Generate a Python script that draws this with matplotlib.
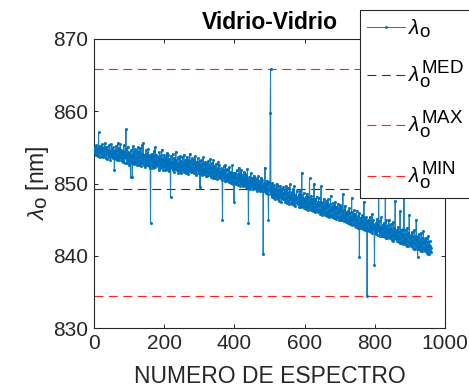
import numpy as np
import matplotlib
matplotlib.use("Agg")
import matplotlib.pyplot as plt
import matplotlib._mathtext as _mt

# MATLAB-like TeX: sub/superscripts nearly full size
_mt.SHRINK_FACTOR = 0.9

plt.rcParams['font.family'] = ['Liberation Sans', 'DejaVu Sans']
plt.rcParams['mathtext.fontset'] = 'custom'
plt.rcParams['mathtext.rm'] = 'Liberation Sans'
plt.rcParams['mathtext.it'] = 'Liberation Sans:italic'
plt.rcParams['mathtext.bf'] = 'Liberation Sans:bold'

# ---------------- data ----------------
lambda_o = [
    854.8, 854.2, 855.1, 854.6, 853.9, 854.4, 855.3, 854.0, 854.7, 855.0, 854.3, 853.8, 857.1, 854.5, 854.9, 853.7, 854.6, 855.2, 854.1, 854.4,
    854.9, 853.8, 854.5, 855.4, 854.0, 853.6, 854.7, 855.0, 853.9, 854.3, 855.6, 854.1, 853.5, 854.8, 854.2, 853.4, 855.1, 854.6, 853.9, 854.4,
    854.7, 853.6, 854.2, 855.3, 853.9, 854.5, 853.3, 854.0, 855.5, 854.3, 853.7, 854.8, 853.5, 854.1, 855.0, 853.8, 854.4, 851.9, 854.6, 853.9,
    854.5, 853.4, 855.2, 853.8, 854.1, 853.2, 854.7, 855.6, 853.6, 854.0, 853.3, 854.9, 853.7, 854.3, 855.4, 853.5, 853.9, 854.6, 853.1, 854.2,
    853.4, 854.5, 853.0, 854.1, 855.3, 853.6, 852.9, 854.3, 853.8, 854.8, 857.5, 853.5, 854.0, 852.8, 853.9, 855.1, 853.3, 854.4, 853.7, 852.6,
    854.2, 853.1, 853.8, 850.9, 854.6, 853.4, 852.9, 854.0, 850.9, 853.6, 855.2, 853.0, 854.3, 852.7, 853.9, 854.8, 853.2, 852.8, 854.5, 853.5,
    853.0, 854.2, 852.6, 853.8, 855.0, 853.3, 852.5, 854.4, 853.7, 852.9, 854.9, 853.1, 853.6, 852.4, 854.1, 853.5, 855.3, 852.8, 853.9, 855.6,
    853.4, 852.6, 854.0, 853.1, 852.3, 853.7, 854.6, 852.9, 853.3, 852.5, 854.2, 853.8, 852.7, 853.0, 854.8, 852.4, 853.6, 853.2, 852.1, 853.9,
    844.6, 853.3, 852.7, 854.1, 852.4, 853.5, 852.9, 853.8, 852.2, 854.5, 853.0, 852.6, 853.4, 855.0, 852.3, 853.1, 852.8, 854.0, 852.5, 853.6,
    852.4, 853.7, 852.8, 851.9, 853.2, 854.3, 852.6, 853.0, 852.1, 853.9, 852.7, 853.4, 854.7, 852.3, 852.9, 853.5, 851.8, 853.1, 852.5, 854.0,
    853.2, 852.3, 851.8, 853.6, 852.9, 852.0, 854.2, 852.6, 853.3, 851.9, 852.8, 853.9, 852.2, 851.7, 853.4, 852.5, 853.0, 848.1, 852.7, 853.8,
    852.1, 853.0, 852.5, 854.1, 851.8, 852.9, 853.5, 852.2, 851.6, 853.3, 852.7, 852.0, 854.4, 852.4, 853.1, 851.9, 852.8, 853.6, 852.3, 851.5,
    852.9, 852.0, 853.4, 851.7, 852.6, 853.8, 852.2, 851.4, 853.1, 852.5, 851.9, 853.6, 852.3, 852.8, 851.6, 854.0, 852.1, 852.7, 851.8, 853.2,
    852.6, 851.5, 853.0, 852.2, 853.7, 851.9, 852.4, 851.3, 853.3, 852.8, 851.7, 852.5, 854.1, 852.0, 851.6, 853.1, 852.3, 851.8, 853.5, 852.1,
    851.6, 852.7, 851.9, 853.3, 852.2, 851.4, 852.9, 853.8, 851.7, 852.4, 851.2, 853.0, 852.1, 851.8, 853.5, 852.5, 851.5, 852.8, 851.9, 853.1,
    852.3, 849.5, 851.8, 852.6, 851.4, 853.2, 851.9, 852.1, 851.2, 852.8, 853.6, 851.6, 852.0, 851.3, 852.5, 853.0, 851.7, 851.1, 852.9, 852.2,
    851.5, 852.4, 851.0, 852.0, 853.1, 851.8, 851.2, 852.6, 851.4, 852.2, 853.4, 851.6, 850.9, 852.1, 851.7, 852.8, 851.3, 850.8, 852.3, 853.3,
    851.9, 851.1, 852.4, 851.6, 850.8, 852.0, 851.4, 852.7, 851.0, 851.8, 850.6, 852.2, 851.3, 853.0, 851.5, 850.9, 852.5, 851.2, 851.7, 850.7,
    851.6, 850.8, 852.1, 851.3, 850.5, 844.9, 851.9, 851.0, 852.4, 850.7, 851.5, 850.3, 851.8, 852.6, 850.9, 851.2, 850.4, 852.0, 851.1, 850.6,
    851.3, 850.5, 851.8, 850.2, 851.0, 852.3, 850.7, 851.4, 850.1, 851.6, 850.8, 850.3, 851.2, 852.5, 850.6, 851.1, 850.0, 851.5, 847.5, 850.9,
    851.0, 850.2, 851.5, 849.9, 850.7, 851.8, 850.4, 850.0, 851.3, 850.6, 849.8, 851.1, 852.2, 850.3, 850.8, 849.7, 851.4, 850.5, 851.9, 850.1,
    850.7, 849.9, 851.2, 850.4, 849.6, 850.9, 851.6, 850.1, 849.8, 850.5, 851.3, 849.5, 850.2, 851.0, 849.7, 850.6, 852.0, 850.0, 849.4, 844.6,
    850.4, 849.6, 850.9, 850.1, 849.3, 850.6, 851.4, 849.8, 850.2, 849.5, 850.8, 849.9, 849.2, 850.5, 851.1, 849.7, 850.3, 849.4, 850.7, 850.0,
    850.1, 849.3, 850.6, 849.8, 849.0, 850.3, 849.5, 851.0, 849.2, 849.9, 850.4, 848.9, 849.6, 850.2, 849.4, 850.8, 849.1, 849.7, 850.5, 849.0,
    849.8, 840.2, 849.5, 848.9, 850.1, 849.2, 852.2, 849.6, 848.7, 849.9, 849.1, 850.4, 848.8, 849.4, 850.0, 848.6, 845.0, 849.3, 850.2, 848.9,
    849.2, 859.8, 865.8, 848.5, 849.6, 848.2, 849.0, 850.1, 848.4, 848.9, 849.5, 848.0, 848.7, 849.8, 848.3, 849.1, 847.9, 849.4, 848.6, 850.0,
    848.1, 848.9, 849.6, 848.3, 847.8, 849.2, 848.6, 847.6, 849.0, 848.4, 849.7, 848.0, 848.8, 847.5, 849.3, 848.5, 848.1, 849.5, 847.9, 848.7,
    848.6, 847.8, 849.1, 848.0, 847.4, 848.9, 849.7, 847.9, 848.3, 847.3, 848.7, 849.4, 847.6, 848.1, 848.8, 847.2, 848.4, 849.9, 847.8, 848.2,
    848.3, 847.5, 848.8, 847.7, 847.1, 848.5, 849.2, 847.4, 848.0, 847.0, 849.6, 847.8, 848.4, 846.9, 848.1, 847.6, 849.0, 847.3, 848.2, 847.7,
    848.0, 847.2, 848.5, 847.4, 846.8, 848.2, 849.1, 847.1, 847.7, 846.7, 848.4, 851.5, 847.5, 846.9, 848.0, 847.3, 848.7, 846.6, 847.9, 847.4,
    847.7, 846.9, 848.2, 847.0, 846.5, 847.9, 848.6, 846.8, 847.4, 846.4, 848.1, 847.2, 846.7, 850.7, 847.5, 846.6, 847.8, 846.3, 848.3, 847.1,
    847.4, 846.6, 847.9, 846.7, 846.2, 847.6, 850.0, 846.5, 847.1, 846.1, 847.8, 846.9, 846.4, 848.2, 847.2, 846.3, 847.5, 846.0, 847.0, 848.0,
    847.0, 846.2, 847.5, 846.4, 845.8, 847.2, 849.6, 846.1, 846.7, 845.7, 847.4, 846.5, 846.0, 847.9, 846.8, 845.9, 847.1, 845.6, 846.6, 847.6,
    846.7, 845.9, 847.2, 846.1, 845.5, 846.9, 847.8, 845.8, 846.4, 845.4, 847.1, 846.2, 845.7, 848.3, 846.5, 845.6, 846.8, 845.3, 846.3, 847.3,
    846.4, 845.6, 846.9, 845.8, 845.2, 846.6, 847.5, 845.5, 846.1, 845.1, 846.8, 845.9, 845.4, 847.2, 846.2, 845.3, 846.5, 845.0, 846.0, 847.0,
    845.2, 846.3, 845.0, 846.8, 845.5, 844.9, 846.1, 845.7, 848.5, 845.3, 844.8, 846.4, 845.6, 845.1, 846.9, 845.4, 844.7, 846.0, 845.8, 844.9,
    845.7, 844.8, 846.2, 845.0, 844.5, 845.9, 846.6, 844.7, 845.3, 844.4, 846.0, 845.1, 844.6, 848.0, 845.4, 844.3, 845.8, 844.9, 845.5, 846.3,
    844.4, 845.3, 844.1, 845.8, 844.6, 844.0, 845.1, 846.2, 844.3, 844.9, 843.9, 845.5, 844.7, 844.2, 845.9, 839.8, 844.5, 845.2, 843.8, 844.8,
    845.0, 844.2, 845.6, 843.9, 844.7, 845.3, 843.7, 844.4, 847.5, 844.1, 843.6, 845.1, 844.6, 843.8, 845.4, 844.0, 844.8, 834.4, 843.5, 844.9,
    844.5, 843.7, 845.0, 843.4, 844.2, 845.4, 843.9, 843.3, 844.7, 843.6, 844.0, 845.8, 843.2, 844.4, 843.8, 844.9, 843.5, 844.1, 838.7, 843.9,
    844.2, 843.3, 844.6, 843.0, 843.9, 845.1, 843.5, 842.9, 844.3, 843.7, 849.5, 843.4, 844.8, 842.8, 843.6, 844.0, 843.1, 845.3, 843.8, 842.7,
    843.9, 843.0, 844.3, 842.7, 843.5, 844.6, 843.2, 842.6, 844.0, 849.0, 843.4, 842.5, 844.9, 843.1, 843.7, 842.4, 844.2, 843.3, 842.8, 845.0,
    843.5, 842.6, 843.9, 842.4, 843.2, 844.4, 842.8, 842.2, 843.6, 843.0, 842.1, 844.7, 842.9, 843.4, 842.3, 843.8, 842.7, 847.6, 842.5, 843.1,
    843.2, 842.3, 843.6, 842.0, 842.8, 844.0, 842.5, 841.9, 843.3, 842.6, 841.8, 846.2, 842.4, 843.0, 841.7, 843.5, 842.2, 842.9, 841.6, 843.7,
    842.8, 841.9, 849.5, 841.7, 842.5, 843.6, 842.1, 841.5, 843.0, 842.3, 841.4, 843.9, 842.0, 842.7, 841.3, 843.2, 841.9, 845.6, 841.6, 842.4,
    842.5, 841.6, 842.9, 841.3, 842.1, 843.3, 841.8, 841.1, 842.6, 841.9, 841.0, 843.6, 841.7, 842.3, 840.9, 842.8, 841.5, 845.0, 841.2, 842.0,
    842.2, 839.8, 842.6, 841.0, 841.8, 843.0, 841.4, 840.8, 842.3, 841.6, 840.7, 843.2, 841.3, 841.9, 840.6, 842.5, 841.1, 843.4, 840.9, 841.7,
    841.8, 840.9, 842.2, 840.6, 841.4, 842.5, 841.0, 840.4, 841.9, 841.2, 840.3, 842.7, 840.8, 841.5, 840.2, 842.0, 840.7, 841.3, 840.5, 841.1,
]
lambda_med = 849.2
lambda_max = 865.8
lambda_min = 834.4
x_ticks = [0, 200, 400, 600, 800, 1000]
y_ticks = [830, 840, 850, 860, 870]

title = "Vidrio-Vidrio"
xlabel = "NUMERO DE ESPECTRO"
ylabel = r"$\lambda_\mathrm{o}$ [nm]"
labels = [r"$\lambda_\mathrm{o}$", r"$\lambda_\mathrm{o}^\mathrm{MED}$",
          r"$\lambda_\mathrm{o}^\mathrm{MAX}$", r"$\lambda_\mathrm{o}^\mathrm{MIN}$"]

# ---------------- plotting ----------------
W, H = 469, 387
fig = plt.figure(figsize=(W / 100, H / 100), dpi=100)
ax = fig.add_axes([94 / W, 1 - 328 / H, (445 - 94) / W, (328 - 39) / H])

n = len(lambda_o)
idx = np.arange(1, n + 1)
blue = '#0072BD'
ax.plot(idx, lambda_o, color=blue, lw=0.75, marker='.', ms=2.5, alpha=0.9,
        label=labels[0], zorder=3)
xr = [0, n + 2]
ax.plot(xr, [lambda_med] * 2, color='#333333', lw=0.8, dashes=(8, 5),
        label=labels[1], zorder=2)
ax.plot(xr, [lambda_max] * 2, color='#FF2020', lw=0.8, dashes=(8, 5),
        label=labels[2], zorder=2)
ax.plot(xr, [lambda_min] * 2, color='#FF2020', lw=0.8, dashes=(8, 5),
        label=labels[3], zorder=2)

ax.set_xlim(0, 1000)
ax.set_ylim(830, 870)
ax.set_xticks(x_ticks)
ax.set_yticks(y_ticks)
ax.tick_params(direction='in', length=3, width=0.7, colors='#262626',
               labelsize=15, top=True, right=True, pad=4)
for s in ax.spines.values():
    s.set_color('#262626')
    s.set_linewidth(0.8)

ax.set_title(title, fontsize=16.5, fontweight='bold', pad=7)
ax.set_xlabel(xlabel, fontsize=16.5, color='#262626', labelpad=9)
ax.set_ylabel(ylabel, fontsize=16.5, color='#262626', labelpad=2)

leg = ax.legend(loc='upper left', bbox_to_anchor=(360 / W, 1 - 10 / H),
                bbox_transform=fig.transFigure, borderaxespad=0,
                fontsize=15, frameon=True, fancybox=False, framealpha=1,
                edgecolor='#262626', handlelength=1.8, handletextpad=0.15,
                labelspacing=0.95, borderpad=0.35)
leg.get_frame().set_linewidth(0.8)
leg.set_zorder(10)

fig.savefig('out.png', dpi=100)
